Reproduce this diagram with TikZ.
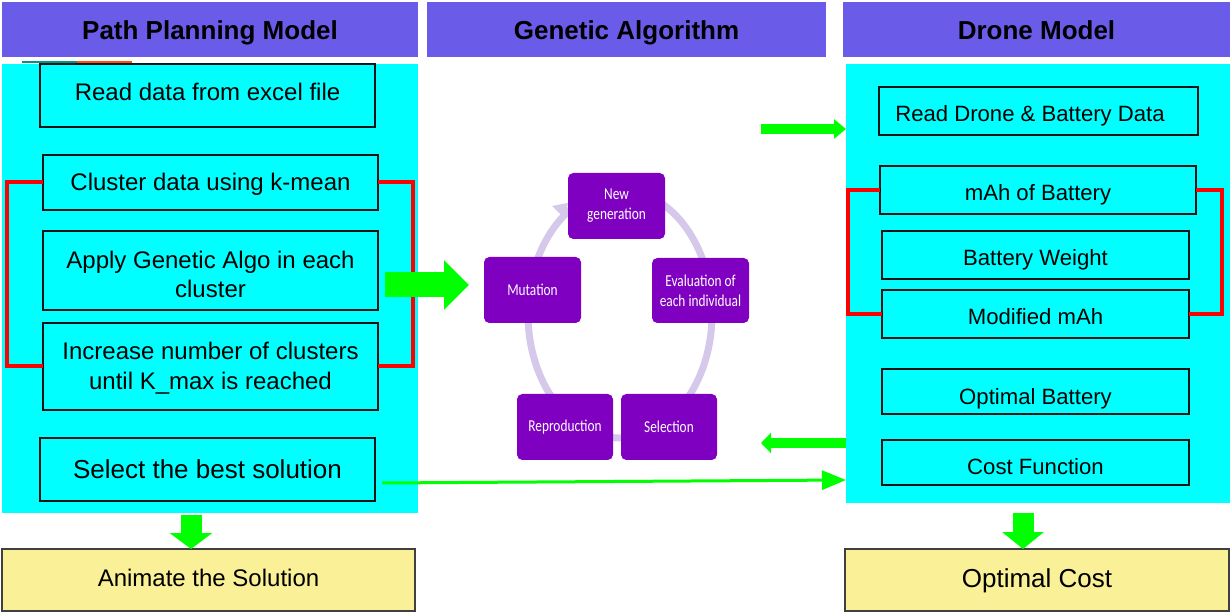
\documentclass[tikz,border=0pt]{standalone}
\usepackage{fontspec}
\setmainfont{Liberation Sans}
\newfontfamily\gafont[FakeStretch=0.8]{Carlito}
\usetikzlibrary{arrows.meta}
\definecolor{hdrblue}{RGB}{106,91,232}
\definecolor{panelcyan}{RGB}{0,255,255}
\definecolor{gapurple}{RGB}{127,0,192}
\definecolor{ringlav}{RGB}{214,200,234}
\definecolor{softyellow}{RGB}{249,240,152}
\definecolor{arrgreen}{RGB}{0,255,0}
\definecolor{brkred}{RGB}{255,0,0}
\definecolor{boxline}{RGB}{20,20,20}
\definecolor{tealbit}{RGB}{0,150,136}
\definecolor{orangebit}{RGB}{255,80,20}
\newcommand{\twolines}[2]{\begin{tabular}[t]{@{}c@{}}#1\\#2\end{tabular}}
\tikzset{
  wh/.style 2 args={minimum width=#1*0.75pt, minimum height=#2*0.75pt},
  tht/.style 2 args={text height=#1, text depth=#2},
  hdr/.style={fill=hdrblue, inner sep=0pt, outer sep=0pt, tht={14.7pt}{0pt}, font=\bfseries\fontsize{19.5}{23}\selectfont},
  panel/.style={fill=panelcyan, inner sep=0pt, outer sep=0pt},
  lbox/.style={draw=boxline, fill=panelcyan, line width=1.1pt, inner sep=0pt, outer sep=0pt, align=center, font=\fontsize{18}{22}\selectfont},
  rbox/.style={lbox, tht={16pt}{0pt}, font=\fontsize{16.6}{20}\selectfont},
  ybox/.style={draw=black!75, fill=softyellow, line width=1.1pt, inner sep=0pt, outer sep=0pt, font=\fontsize{18}{22}\selectfont},
  gabox/.style={fill=gapurple, rounded corners=4pt, inner sep=0pt, text=white, align=center, font=\gafont\fontsize{12.5}{15}\selectfont},
  bracket/.style={draw=brkred, line width=3pt, line join=miter},
  garrow/.style={draw=arrgreen},
}
\begin{document}
\begin{tikzpicture}[x=0.75pt, y=-0.75pt]
\useasboundingbox (0,0) rectangle (1232,616);
% headers
\node[hdr, wh={416}{55}] (h1) at (210,29.5) {Path Planning Model};
\node[hdr, wh={399}{55}] (h2) at (626.5,29.5) {Genetic Algorithm};
\node[hdr, wh={387}{55}] (h3) at (1036.5,29.5) {Drone Model};
% panels
\fill[tealbit] (22,61) rectangle (77,63.5);
\fill[orangebit] (77,61) rectangle (132,63.5);
\node[panel, wh={416}{449}] (lp) at (210,288.5) {};
\node[panel, wh={384}{439}] (rp) at (1038,283.5) {};
% left boxes
\node[lbox, wh={335}{63}, tht={7.8pt}{0pt}] (rd) at (207.5,95.5) {Read data from excel file};
\node[lbox, wh={335}{55}, tht={12.3pt}{0pt}] (cl) at (210.5,182.5) {Cluster data using k-mean};
\node[lbox, wh={335}{79}, tht={0pt}{3.3pt}] (ap) at (210.5,270.5) {\twolines{Apply Genetic Algo in each}{cluster}};
\node[lbox, wh={335}{87}, tht={0pt}{9.75pt}] (inc) at (210.5,366.5) {\twolines{Increase number of clusters}{until K\_max is reached}};
\node[lbox, wh={335}{63}, tht={13.2pt}{0pt}, font=\fontsize{19.5}{23}\selectfont] (sel) at (207.5,469.5) {Select the best solution};
\draw[bracket] (cl.west) -- ++(-36,0) |- (inc.west);
\draw[bracket] (cl.east) -- ++(35,0) |- (inc.east);
% right boxes
\node[rbox, wh={319}{48}] (rdd) at (1038.5,111) {Read Drone \& Battery Data\hspace*{12.75pt}};
\node[rbox, wh={316}{48}] (mah) at (1038,190) {mAh of Battery};
\node[rbox, wh={307}{48}] (bw) at (1035.5,255) {Battery Weight};
\node[rbox, wh={307}{48}, tht={16.5pt}{0pt}] (mod) at (1035.5,314) {Modified mAh};
\node[rbox, wh={307}{45}, tht={19.2pt}{0pt}] (ob) at (1035.5,391.5) {Optimal Battery};
\node[rbox, wh={307}{45}, tht={17.7pt}{0pt}] (cf) at (1035.5,462.5) {Cost Function};
\draw[bracket] (mah.west) -- ++(-32,0) |- (mod.west);
\draw[bracket] (mah.east) -- ++(26,0) |- (mod.east);
% yellow
\node[ybox, wh={413}{62}, tht={9pt}{0pt}] (an) at (208.5,580) {Animate the Solution};
\node[ybox, wh={384}{62}, tht={11pt}{0pt}, font=\fontsize{19.5}{23}\selectfont] (oc) at (1037,580) {Optimal Cost};
% GA cycle
\draw[ringlav, line width=5.25pt] (620,314) ellipse [x radius=69pt, y radius=93pt];
\fill[ringlav] (568,203) -- (552,206) -- (565,219) -- cycle;
\node[gabox, wh={97}{66}] (ng) at (616.5,206) {New\\generation};
\node[gabox, wh={97}{65}] (ev) at (700.5,290.5) {Evaluation of\\each individual};
\node[gabox, wh={96}{66}] (se) at (669,427) {Selection};
\node[gabox, wh={96}{66}] (re) at (565,427) {Reproduction};
\node[gabox, wh={97}{66}] (mu) at (532.5,290) {Mutation};
% arrows
\coordinate (a1s) at (385,285);
\coordinate (a1e) at (469,285);
\draw[garrow, line width=18.75pt, -{Triangle[length=18.75pt, width=36pt]}] (a1s) -- (a1e);
\coordinate (a2s) at (761,129);
\draw[garrow, line width=7.5pt, -{Triangle[length=9pt, width=14.25pt]}] (a2s) -- (rp.west |- a2s);
\coordinate (a3e) at (761,443);
\draw[garrow, line width=7.5pt, -{Triangle[length=7.5pt, width=15pt]}] (rp.west |- a3e) -- (a3e);
\coordinate (a4s) at (382,483);
\coordinate (a4e) at (846,480);
\draw[garrow, line width=2.25pt, -{Triangle[length=18pt, width=14.25pt]}] (a4s) -- (a4e);
\draw[garrow, line width=15.75pt, -{Triangle[length=12pt, width=31.5pt]}] (191,515) -- (191,549);
\draw[garrow, line width=15.75pt, -{Triangle[length=12.75pt, width=30.75pt]}] (1023,513) -- (1023,549);
\end{tikzpicture}
\end{document}
